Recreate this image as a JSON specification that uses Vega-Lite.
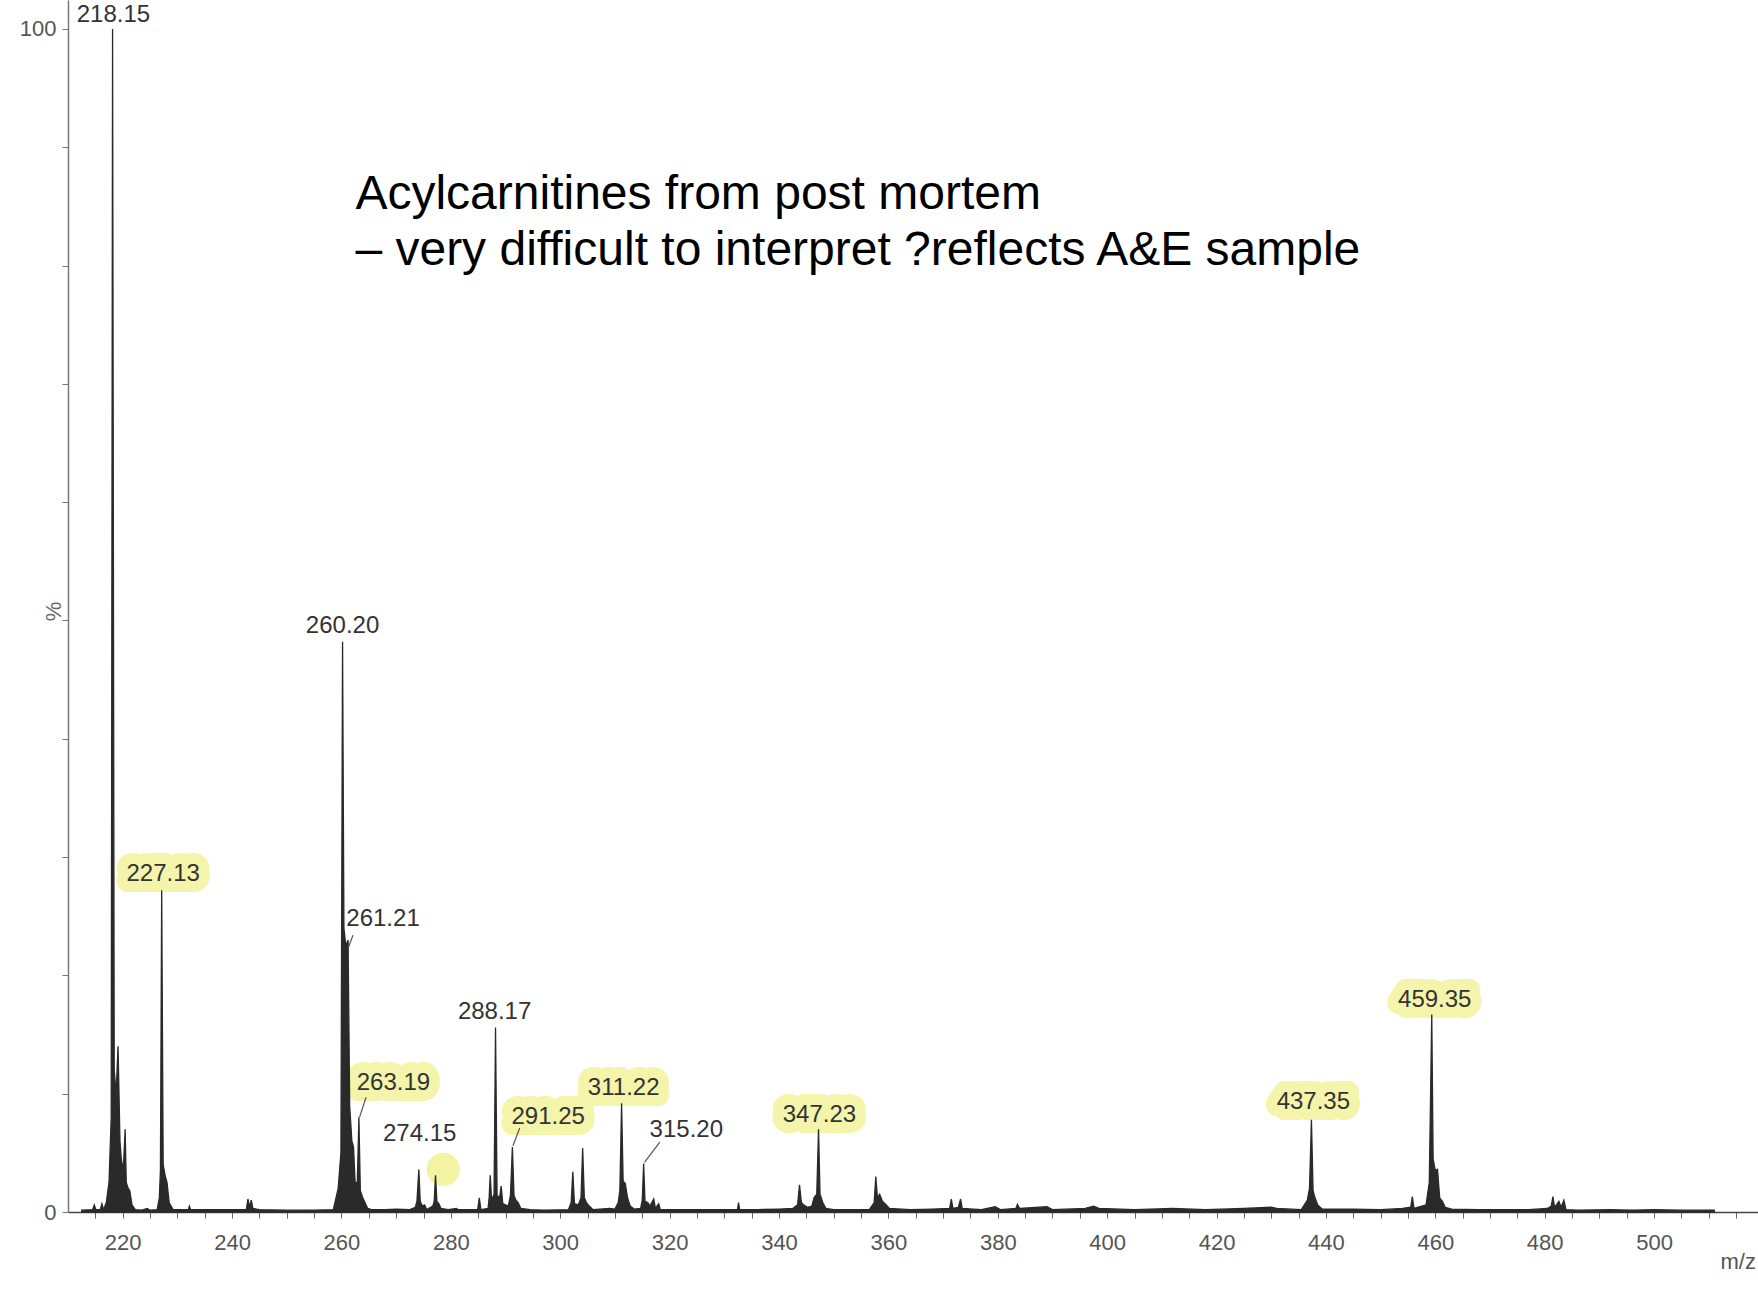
{
  "$schema": "https://vega.github.io/schema/vega-lite/v6.json",
  "width": 1690,
  "height": 1212,
  "autosize": {"type": "none"},
  "padding": {"left": 68, "top": 0, "right": 0, "bottom": 85},
  "background": "white",
  "config": {"view": {"stroke": null}, "font": "Liberation Sans"},
  "datasets": {
    "spectrum": [
      {"mz": 212.5, "i": 0.15}, {"mz": 214.5, "i": 0.2}, {"mz": 214.8, "i": 0.6}, {"mz": 215.1, "i": 0.2},
      {"mz": 215.9, "i": 0.2}, {"mz": 216.2, "i": 0.7}, {"mz": 216.5, "i": 0.2}, {"mz": 217.0, "i": 0.8},
      {"mz": 217.5, "i": 2.5}, {"mz": 217.9, "i": 8}, {"mz": 218.15, "i": 100}, {"mz": 218.45, "i": 12},
      {"mz": 218.8, "i": 10}, {"mz": 219.15, "i": 14}, {"mz": 219.5, "i": 6}, {"mz": 219.9, "i": 3.5},
      {"mz": 220.2, "i": 4.5}, {"mz": 220.45, "i": 7}, {"mz": 220.65, "i": 2.5}, {"mz": 221.0, "i": 2},
      {"mz": 221.3, "i": 1.8}, {"mz": 221.7, "i": 0.6}, {"mz": 222.3, "i": 0.2}, {"mz": 223.5, "i": 0.15},
      {"mz": 224.5, "i": 0.3}, {"mz": 225.0, "i": 0.15}, {"mz": 226.3, "i": 0.2}, {"mz": 226.7, "i": 1.2},
      {"mz": 226.9, "i": 3.5}, {"mz": 227.13, "i": 27.2}, {"mz": 227.4, "i": 4}, {"mz": 227.8, "i": 3},
      {"mz": 228.1, "i": 2.5}, {"mz": 228.5, "i": 0.8}, {"mz": 229.2, "i": 0.2}, {"mz": 232.0, "i": 0.2},
      {"mz": 232.2, "i": 0.5}, {"mz": 232.4, "i": 0.2}, {"mz": 235.0, "i": 0.2}, {"mz": 238.5, "i": 0.2},
      {"mz": 242.6, "i": 0.2}, {"mz": 242.9, "i": 1.1}, {"mz": 243.2, "i": 0.4}, {"mz": 243.5, "i": 1.0},
      {"mz": 243.8, "i": 0.3}, {"mz": 245.0, "i": 0.2}, {"mz": 250.0, "i": 0.15}, {"mz": 255.0, "i": 0.15},
      {"mz": 258.5, "i": 0.2}, {"mz": 259.0, "i": 1.2}, {"mz": 259.4, "i": 2}, {"mz": 259.9, "i": 5},
      {"mz": 260.2, "i": 48.2}, {"mz": 260.45, "i": 24}, {"mz": 260.8, "i": 22.5}, {"mz": 261.21, "i": 23},
      {"mz": 261.5, "i": 9}, {"mz": 261.9, "i": 6}, {"mz": 262.2, "i": 5.5}, {"mz": 262.5, "i": 2.5},
      {"mz": 262.9, "i": 2.5}, {"mz": 263.19, "i": 8}, {"mz": 263.45, "i": 1.8}, {"mz": 263.9, "i": 1.2},
      {"mz": 264.3, "i": 0.8}, {"mz": 264.8, "i": 0.3}, {"mz": 265.5, "i": 0.2}, {"mz": 268.0, "i": 0.2},
      {"mz": 270.0, "i": 0.25}, {"mz": 272.5, "i": 0.2}, {"mz": 273.5, "i": 0.4}, {"mz": 273.8, "i": 0.9},
      {"mz": 274.15, "i": 3.6}, {"mz": 274.4, "i": 0.9}, {"mz": 274.8, "i": 0.5}, {"mz": 275.2, "i": 0.6},
      {"mz": 275.6, "i": 0.2}, {"mz": 276.7, "i": 0.5}, {"mz": 276.95, "i": 0.9}, {"mz": 277.2, "i": 3.1},
      {"mz": 277.45, "i": 0.9}, {"mz": 277.8, "i": 0.7}, {"mz": 278.2, "i": 0.3}, {"mz": 279.5, "i": 0.2},
      {"mz": 281.0, "i": 0.3}, {"mz": 281.3, "i": 0.2}, {"mz": 284.9, "i": 0.2}, {"mz": 285.2, "i": 1.2},
      {"mz": 285.5, "i": 0.2}, {"mz": 286.8, "i": 0.3}, {"mz": 287.0, "i": 1.2}, {"mz": 287.2, "i": 3.1},
      {"mz": 287.45, "i": 1.0}, {"mz": 287.9, "i": 1.5}, {"mz": 288.17, "i": 15.6}, {"mz": 288.45, "i": 1.4},
      {"mz": 288.9, "i": 1.2}, {"mz": 289.2, "i": 2.2}, {"mz": 289.5, "i": 0.7}, {"mz": 290.5, "i": 0.5},
      {"mz": 290.9, "i": 1.4}, {"mz": 291.25, "i": 5.5}, {"mz": 291.55, "i": 1.4}, {"mz": 291.9, "i": 1.0},
      {"mz": 292.3, "i": 0.8}, {"mz": 292.8, "i": 0.3}, {"mz": 294.5, "i": 0.2}, {"mz": 297.0, "i": 0.15},
      {"mz": 301.5, "i": 0.2}, {"mz": 302.0, "i": 0.8}, {"mz": 302.3, "i": 3.4}, {"mz": 302.6, "i": 0.7},
      {"mz": 303.3, "i": 0.6}, {"mz": 303.8, "i": 1.2}, {"mz": 304.1, "i": 5.4}, {"mz": 304.4, "i": 1.2},
      {"mz": 304.8, "i": 0.8}, {"mz": 305.3, "i": 0.5}, {"mz": 306.0, "i": 0.2}, {"mz": 309.0, "i": 0.3},
      {"mz": 310.0, "i": 0.25}, {"mz": 310.6, "i": 0.8}, {"mz": 310.9, "i": 1.8}, {"mz": 311.22, "i": 9.2},
      {"mz": 311.5, "i": 2.6}, {"mz": 311.9, "i": 2.4}, {"mz": 312.3, "i": 1.2}, {"mz": 312.8, "i": 0.5},
      {"mz": 313.5, "i": 0.25}, {"mz": 314.7, "i": 0.3}, {"mz": 315.0, "i": 1.0}, {"mz": 315.25, "i": 4.1},
      {"mz": 315.5, "i": 0.9}, {"mz": 316.0, "i": 0.8}, {"mz": 316.4, "i": 0.5}, {"mz": 317.1, "i": 1.1},
      {"mz": 317.4, "i": 0.3}, {"mz": 318.0, "i": 0.7}, {"mz": 318.3, "i": 0.2}, {"mz": 320.0, "i": 0.2},
      {"mz": 324.0, "i": 0.2}, {"mz": 328.0, "i": 0.2}, {"mz": 332.4, "i": 0.2}, {"mz": 332.6, "i": 0.8},
      {"mz": 332.8, "i": 0.2}, {"mz": 336.0, "i": 0.2}, {"mz": 340.0, "i": 0.25}, {"mz": 342.5, "i": 0.3},
      {"mz": 343.4, "i": 0.6}, {"mz": 343.75, "i": 2.3}, {"mz": 344.1, "i": 0.8}, {"mz": 344.5, "i": 0.6},
      {"mz": 345.2, "i": 0.4}, {"mz": 346.0, "i": 0.5}, {"mz": 346.4, "i": 1.2}, {"mz": 346.9, "i": 1.5},
      {"mz": 347.23, "i": 7}, {"mz": 347.5, "i": 1.5}, {"mz": 348.0, "i": 0.8}, {"mz": 348.6, "i": 0.3},
      {"mz": 350.0, "i": 0.2}, {"mz": 353.0, "i": 0.2}, {"mz": 356.5, "i": 0.2}, {"mz": 357.4, "i": 0.8},
      {"mz": 357.7, "i": 3}, {"mz": 358.0, "i": 1.2}, {"mz": 358.4, "i": 1.5}, {"mz": 358.9, "i": 0.9},
      {"mz": 359.4, "i": 0.7}, {"mz": 360.2, "i": 0.3}, {"mz": 364.0, "i": 0.2}, {"mz": 368.0, "i": 0.25},
      {"mz": 371.2, "i": 0.3}, {"mz": 371.5, "i": 1.1}, {"mz": 371.8, "i": 0.3}, {"mz": 372.8, "i": 0.4},
      {"mz": 373.2, "i": 1.1}, {"mz": 373.5, "i": 0.3}, {"mz": 377.0, "i": 0.2}, {"mz": 379.5, "i": 0.45},
      {"mz": 380.5, "i": 0.2}, {"mz": 383.3, "i": 0.3}, {"mz": 383.6, "i": 0.65}, {"mz": 384.0, "i": 0.3},
      {"mz": 389.0, "i": 0.45}, {"mz": 390.0, "i": 0.2}, {"mz": 396.0, "i": 0.3}, {"mz": 397.5, "i": 0.5},
      {"mz": 398.5, "i": 0.3}, {"mz": 405.0, "i": 0.2}, {"mz": 412.0, "i": 0.3}, {"mz": 418.0, "i": 0.2},
      {"mz": 425.0, "i": 0.3}, {"mz": 430.0, "i": 0.4}, {"mz": 431.0, "i": 0.3}, {"mz": 435.5, "i": 0.2},
      {"mz": 436.6, "i": 1.0}, {"mz": 437.0, "i": 2.0}, {"mz": 437.35, "i": 7.8}, {"mz": 437.65, "i": 1.8},
      {"mz": 438.0, "i": 1.2}, {"mz": 438.5, "i": 0.6}, {"mz": 439.3, "i": 0.25}, {"mz": 445.0, "i": 0.25},
      {"mz": 450.0, "i": 0.2}, {"mz": 454.0, "i": 0.3}, {"mz": 455.5, "i": 0.4}, {"mz": 455.8, "i": 1.3},
      {"mz": 456.1, "i": 0.3}, {"mz": 458.3, "i": 0.6}, {"mz": 458.9, "i": 2.5}, {"mz": 459.35, "i": 16.7},
      {"mz": 459.6, "i": 4.5}, {"mz": 460.0, "i": 3.5}, {"mz": 460.4, "i": 3.6}, {"mz": 460.8, "i": 1.2},
      {"mz": 461.3, "i": 0.9}, {"mz": 461.8, "i": 0.4}, {"mz": 463.0, "i": 0.25}, {"mz": 468.0, "i": 0.2},
      {"mz": 472.0, "i": 0.2}, {"mz": 477.0, "i": 0.2}, {"mz": 480.5, "i": 0.3}, {"mz": 481.2, "i": 0.5},
      {"mz": 481.5, "i": 1.3}, {"mz": 481.8, "i": 0.4}, {"mz": 482.6, "i": 0.9}, {"mz": 483.0, "i": 0.4},
      {"mz": 483.5, "i": 1.0}, {"mz": 483.9, "i": 0.2}, {"mz": 486.0, "i": 0.15}, {"mz": 492.0, "i": 0.2},
      {"mz": 496.0, "i": 0.15}, {"mz": 500.0, "i": 0.2}, {"mz": 505.0, "i": 0.15}, {"mz": 511.0, "i": 0.15}
    ],
    "labels": [
      {"mz": 218.3, "i": 101.2, "t": "218.15", "hl": false},
      {"mz": 227.4, "i": 28.6, "t": "227.13", "hl": true},
      {"mz": 260.2, "i": 49.5, "t": "260.20", "hl": false},
      {"mz": 267.6, "i": 24.8, "t": "261.21", "hl": false},
      {"mz": 269.5, "i": 10.9, "t": "263.19", "hl": true},
      {"mz": 274.3, "i": 6.6, "t": "274.15", "hl": false},
      {"mz": 288.0, "i": 16.9, "t": "288.17", "hl": false},
      {"mz": 297.8, "i": 8.0, "t": "291.25", "hl": true},
      {"mz": 311.6, "i": 10.5, "t": "311.22", "hl": true},
      {"mz": 323.05, "i": 6.9, "t": "315.20", "hl": false},
      {"mz": 347.4, "i": 8.2, "t": "347.23", "hl": true},
      {"mz": 437.7, "i": 9.3, "t": "437.35", "hl": true},
      {"mz": 459.9, "i": 17.9, "t": "459.35", "hl": true}
    ],
    "leaders": [
      {"mz": 262.1, "i": 23.4, "mz2": 261.3, "i2": 22.4},
      {"mz": 264.5, "i": 9.7, "mz2": 263.3, "i2": 8.0},
      {"mz": 292.6, "i": 7.1, "mz2": 291.35, "i2": 5.6},
      {"mz": 318.2, "i": 5.9, "mz2": 315.4, "i2": 4.2}
    ],
    "blobs": [
      {"mz": 278.6, "i": 3.6}
    ],
    "note": [
      {"mz": 262.55, "i": 84.8, "t": "Acylcarnitines from post mortem\n– very difficult to interpret ?reflects A&E sample"}
    ]
  },
  "encoding": {
    "x": {
      "field": "mz", "type": "quantitative",
      "scale": {"domain": [210, 519], "nice": false, "zero": false},
      "axis": {
        "values": [215,220,225,230,235,240,245,250,255,260,265,270,275,280,285,290,295,300,305,310,315,320,325,330,335,340,345,350,355,360,365,370,375,380,385,390,395,400,405,410,415,420,425,430,435,440,445,450,455,460,465,470,475,480,485,490,495,500,505,510,515],
        "labelExpr": "datum.value % 20 == 0 ? datum.label : ''",
        "grid": false, "labelFontSize": 22, "labelColor": "#555", "labelPadding": 14,
        "tickColor": "#666", "tickSize": 6, "tickWidth": 1,
        "domainColor": "#444", "domainWidth": 1.5,
        "title": "m/z", "titleFontSize": 22, "titleFontWeight": "normal", "titleColor": "#555",
        "titleX": 1652, "titleY": 49, "titleAlign": "left", "titleBaseline": "middle"
      }
    },
    "y": {
      "field": "i", "type": "quantitative",
      "scale": {"domain": [0, 102.45], "nice": false},
      "axis": {
        "values": [0,10,20,30,40,50,60,70,80,90,100],
        "labelExpr": "datum.value == 0 || datum.value == 100 ? datum.label : ''",
        "grid": false, "labelFontSize": 22, "labelColor": "#555", "labelPadding": 6,
        "tickColor": "#777", "tickSize": 6, "domainColor": "#777", "domainWidth": 1.5,
        "title": "%", "titleFontSize": 22, "titleFontWeight": "normal", "titleColor": "#666",
        "titleX": -15, "titleY": 611, "titleAngle": -90, "titleAlign": "center", "titleBaseline": "middle"
      }
    }
  },
  "layer": [
    {
      "data": {"name": "blobs"},
      "mark": {"type": "point", "filled": true, "shape": "circle", "size": 1100, "color": "#f3f3a3", "opacity": 1}
    },
    {
      "data": {"name": "labels"},
      "transform": [{"filter": "datum.hl"}],
      "mark": {"type": "text", "fontSize": 24, "align": "center", "baseline": "middle", "fill": "#f4f4aa", "stroke": "#f4f4aa", "strokeWidth": 22, "strokeJoin": "round"},
      "encoding": {"text": {"field": "t"}}
    },
    {
      "data": {"name": "spectrum"},
      "mark": {"type": "area", "interpolate": "linear", "fill": "#2a2a2a", "stroke": "#2a2a2a", "strokeWidth": 1.3}
    },
    {
      "data": {"name": "leaders"},
      "mark": {"type": "rule", "color": "#555", "strokeWidth": 1.2},
      "encoding": {"x2": {"field": "mz2"}, "y2": {"field": "i2"}}
    },
    {
      "data": {"name": "labels"},
      "mark": {"type": "text", "fontSize": 24, "align": "center", "baseline": "middle", "fill": "#333"},
      "encoding": {"text": {"field": "t"}}
    },
    {
      "data": {"name": "note"},
      "mark": {"type": "text", "fontSize": 48, "align": "left", "baseline": "alphabetic", "lineHeight": 56, "lineBreak": "\n", "fill": "#000"},
      "encoding": {"text": {"field": "t"}}
    }
  ]
}
